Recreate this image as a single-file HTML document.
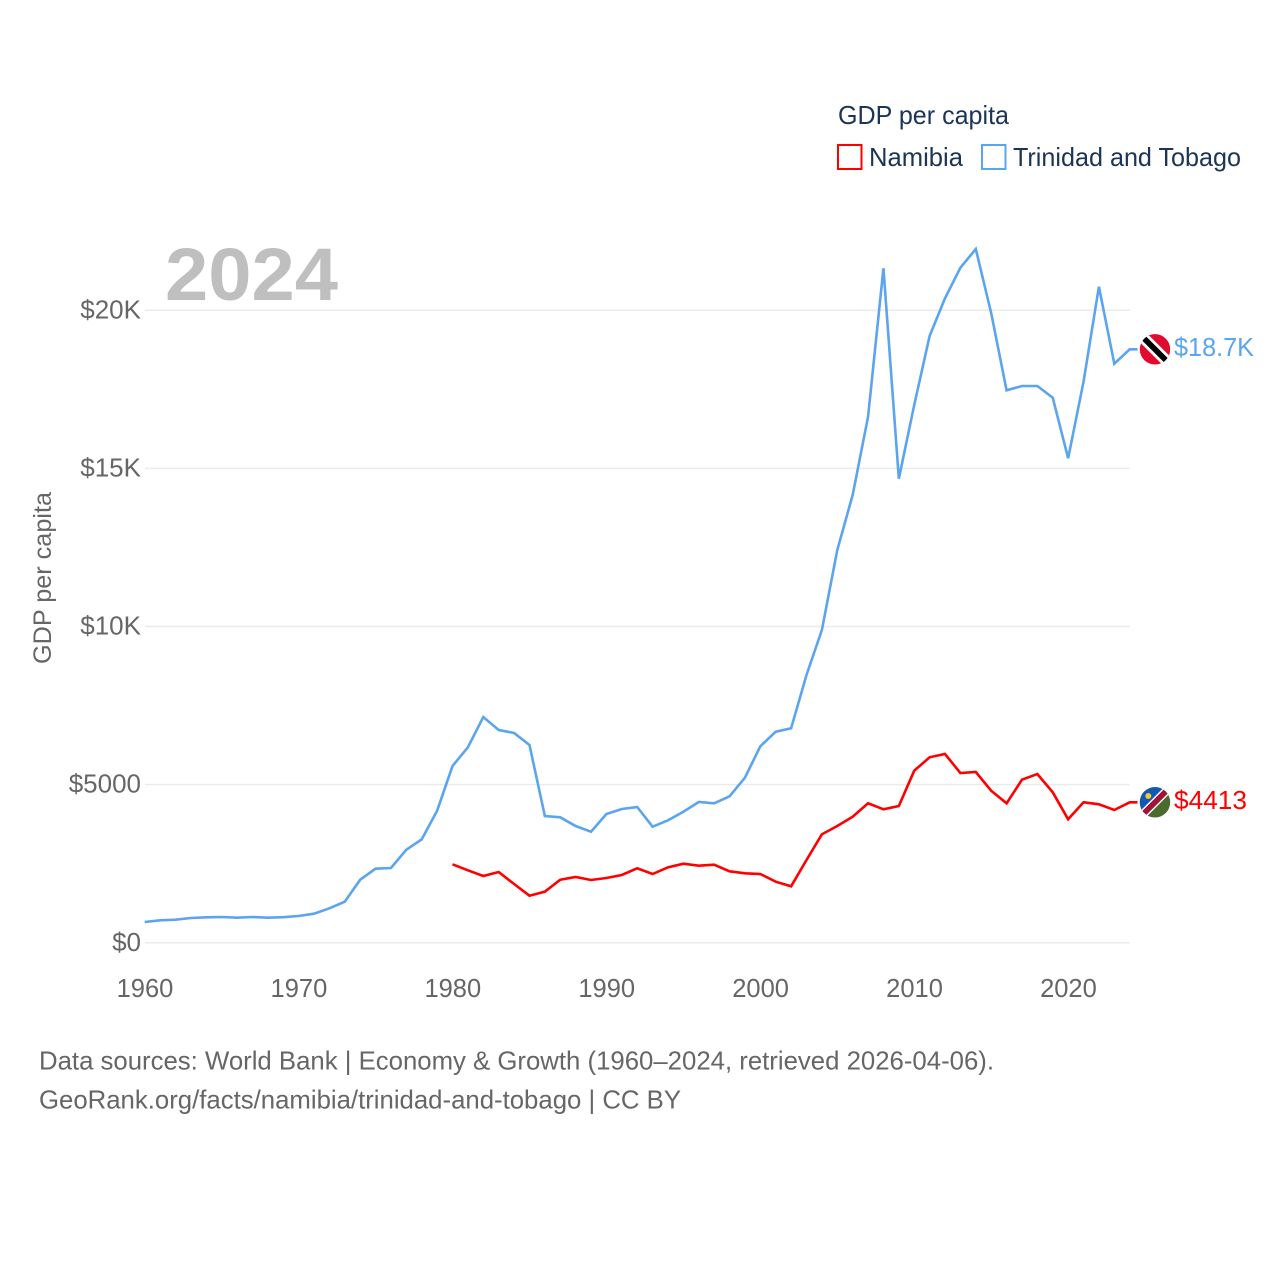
<!DOCTYPE html>
<html lang="en">
<head>
<meta charset="utf-8">
<title>GDP per capita: Namibia and Trinidad and Tobago</title>
<style>
html,body{margin:0;padding:0;background:#fff;width:1280px;height:1280px;overflow:hidden}
svg{display:block}
text{font-family:"Liberation Sans",sans-serif}
</style>
</head>
<body>
<svg id="chart" width="1280" height="1280" viewBox="0 0 1280 1280" xmlns="http://www.w3.org/2000/svg">
  <defs>
    <clipPath id="flag-clip"><circle cx="0" cy="0" r="15.2"></circle></clipPath>
  </defs>
  <rect x="0" y="0" width="1280" height="1280" fill="#ffffff"></rect>

  <g id="grid"></g>
  <g id="ytick-labels"></g>
  <g id="xtick-labels"></g>

  <text x="165" y="300" font-size="74" font-weight="700" fill="#bfbfbf" textLength="173" lengthAdjust="spacingAndGlyphs">2024</text>

  <text transform="translate(51,664) rotate(-90)" font-size="25" fill="#666666" textLength="172" lengthAdjust="spacingAndGlyphs">GDP per capita</text>

  <g id="series"></g>

  <g id="flag-tt">
    <g clip-path="url(#flag-clip)">
      <rect x="-16" y="-16" width="32" height="32" fill="#e00b2f"></rect>
      <polygon points="-21,-13 -13,-21 21,13 13,21" fill="#ffffff"></polygon>
      <polygon points="-19,-15 -15,-19 19,15 15,19" fill="#000000"></polygon>
    </g>
  </g>

  <g id="flag-na">
    <g clip-path="url(#flag-clip)">
      <rect x="-16" y="-16" width="32" height="32" fill="#4a6b2e"></rect>
      <polygon points="-16,-16 16,-16 -16,16" fill="#1259b5"></polygon>
      <polygon points="-19,13 13,-19 19,-13 -13,19" fill="#ffffff"></polygon>
      <polygon points="-18,14 14,-18 18,-14 -14,18" fill="#a01535"></polygon>
      <circle cx="-6.7" cy="-6.3" r="3" fill="#f6c92c"></circle>
    </g>
  </g>

  <text id="value-tt" x="1174" font-size="26" fill="#5ba4ee" textLength="80" lengthAdjust="spacingAndGlyphs"></text>
  <text id="value-na" x="1174" font-size="26" fill="#ff0000" textLength="73" lengthAdjust="spacingAndGlyphs"></text>

  <g>
    <text x="838" y="124" font-size="26" fill="#1b3557" textLength="171" lengthAdjust="spacingAndGlyphs">GDP per capita</text>
    <g>
      <rect x="838" y="145" width="23.5" height="24" fill="#ffffff" stroke="#ff0000" stroke-width="2"></rect>
      <text x="869" y="166" font-size="26" fill="#1b3557" textLength="94" lengthAdjust="spacingAndGlyphs">Namibia</text>
    </g>
    <g>
      <rect x="982" y="145" width="23.5" height="24" fill="#ffffff" stroke="#5ba4ee" stroke-width="2"></rect>
      <text x="1013" y="166" font-size="26" fill="#1b3557" textLength="228" lengthAdjust="spacingAndGlyphs">Trinidad and Tobago</text>
    </g>
  </g>

  <g>
    <text x="39" y="1069.5" font-size="26" fill="#666666" textLength="955" lengthAdjust="spacingAndGlyphs">Data sources: World Bank | Economy &amp; Growth (1960–2024, retrieved 2026-04-06).</text>
    <text x="39" y="1108.5" font-size="26" fill="#666666" textLength="642" lengthAdjust="spacingAndGlyphs">GeoRank.org/facts/namibia/trinidad-and-tobago | CC BY</text>
  </g>
</svg>

<script>
const years = [1960,1961,1962,1963,1964,1965,1966,1967,1968,1969,1970,1971,1972,1973,1974,1975,1976,1977,1978,1979,1980,1981,1982,1983,1984,1985,1986,1987,1988,1989,1990,1991,1992,1993,1994,1995,1996,1997,1998,1999,2000,2001,2002,2003,2004,2005,2006,2007,2008,2009,2010,2011,2012,2013,2014,2015,2016,2017,2018,2019,2020,2021,2022,2023,2024];
const trinidadValues = [658,711,730,784,806,816,794,816,794,809,847,920,1091,1300,1995,2343,2365,2944,3273,4177,5590,6182,7140,6729,6634,6255,4009,3968,3693,3513,4073,4231,4294,3671,3874,4145,4452,4411,4632,5220,6213,6675,6782,8468,9891,12420,14159,16635,21328,14675,17005,19187,20379,21347,21938,19914,17470,17606,17606,17236,15320,17742,20746,18311,18766];
const namibiaValues = [null,null,null,null,null,null,null,null,null,null,null,null,null,null,null,null,null,null,null,null,2482,2292,2112,2239,1859,1489,1616,1995,2081,1986,2049,2144,2356,2175,2387,2501,2438,2470,2261,2198,2175,1932,1787,2618,3431,3693,3987,4411,4221,4326,5442,5866,5970,5369,5401,4809,4411,5157,5337,4759,3905,4443,4379,4199,4443];
const yTickValues = [0,5000,10000,15000,20000];
const yTickLabels = ["$0","$5000","$10K","$15K","$20K"];
const xTickYears = [1960,1970,1980,1990,2000,2010,2020];
const trinidadPrinted = "$18.7K";
const namibiaPrinted = "$4413";

const SVGNS = "http://www.w3.org/2000/svg";
function xScale(year){ return 145 + (year - 1960) * (985 / 64); }
function yScale(value){ return 942.8 - value * 0.031625; }

function linePath(values){
  let d = "";
  let started = false;
  values.forEach(function(v, i){
    if (v === null) return;
    d += (started ? "L" : "M") + (xScale(years[i]) - 0.3).toFixed(2) + " " + yScale(v).toFixed(2);
    started = true;
  });
  const last = values[values.length - 1];
  d += "L1137.5 " + yScale(last).toFixed(2);
  return d;
}

const grid = document.getElementById("grid");
const yLabels = document.getElementById("ytick-labels");
yTickValues.forEach(function(v, i){
  const line = document.createElementNS(SVGNS, "line");
  
  
  line.setAttribute("x1", 145);
  line.setAttribute("x2", 1130);
  line.setAttribute("y1", yScale(v));
  line.setAttribute("y2", yScale(v));
  line.setAttribute("stroke", "#ebebeb");
  line.setAttribute("stroke-width", "1.5");
  grid.appendChild(line);

  const t = document.createElementNS(SVGNS, "text");
  
  
  t.setAttribute("x", 141);
  t.setAttribute("y", yScale(v) + 8);
  t.setAttribute("text-anchor", "end");
  t.setAttribute("font-size", "26");
  t.setAttribute("fill", "#666666");
  t.textContent = yTickLabels[i];
  yLabels.appendChild(t);
});

const xLabels = document.getElementById("xtick-labels");
xTickYears.forEach(function(year){
  const t = document.createElementNS(SVGNS, "text");
  
  
  t.setAttribute("x", xScale(year));
  t.setAttribute("y", 997);
  t.setAttribute("text-anchor", "middle");
  t.setAttribute("font-size", "25.5");
  t.setAttribute("fill", "#666666");
  t.textContent = String(year);
  xLabels.appendChild(t);
});

const seriesGroup = document.getElementById("series");

const ttLine = document.createElementNS(SVGNS, "path");


ttLine.setAttribute("d", linePath(trinidadValues));
ttLine.setAttribute("fill", "none");
ttLine.setAttribute("stroke", "#5ba4ee");
ttLine.setAttribute("stroke-width", "2.6");
ttLine.setAttribute("stroke-linejoin", "miter");
seriesGroup.appendChild(ttLine);

const naLine = document.createElementNS(SVGNS, "path");


naLine.setAttribute("d", linePath(namibiaValues));
naLine.setAttribute("fill", "none");
naLine.setAttribute("stroke", "#ff0000");
naLine.setAttribute("stroke-width", "2.6");
naLine.setAttribute("stroke-linejoin", "miter");
seriesGroup.appendChild(naLine);

const ttY = yScale(trinidadValues[trinidadValues.length - 1]);
const naY = yScale(namibiaValues[namibiaValues.length - 1]);
document.getElementById("flag-tt").setAttribute("transform", "translate(1155 " + ttY + ")");
document.getElementById("flag-na").setAttribute("transform", "translate(1155 " + naY + ")");
const ttValue = document.getElementById("value-tt");
ttValue.setAttribute("y", ttY + 6.5);
ttValue.textContent = trinidadPrinted;
const naValue = document.getElementById("value-na");
naValue.setAttribute("y", naY + 6.5);
naValue.textContent = namibiaPrinted;
</script>
</body>
</html>
